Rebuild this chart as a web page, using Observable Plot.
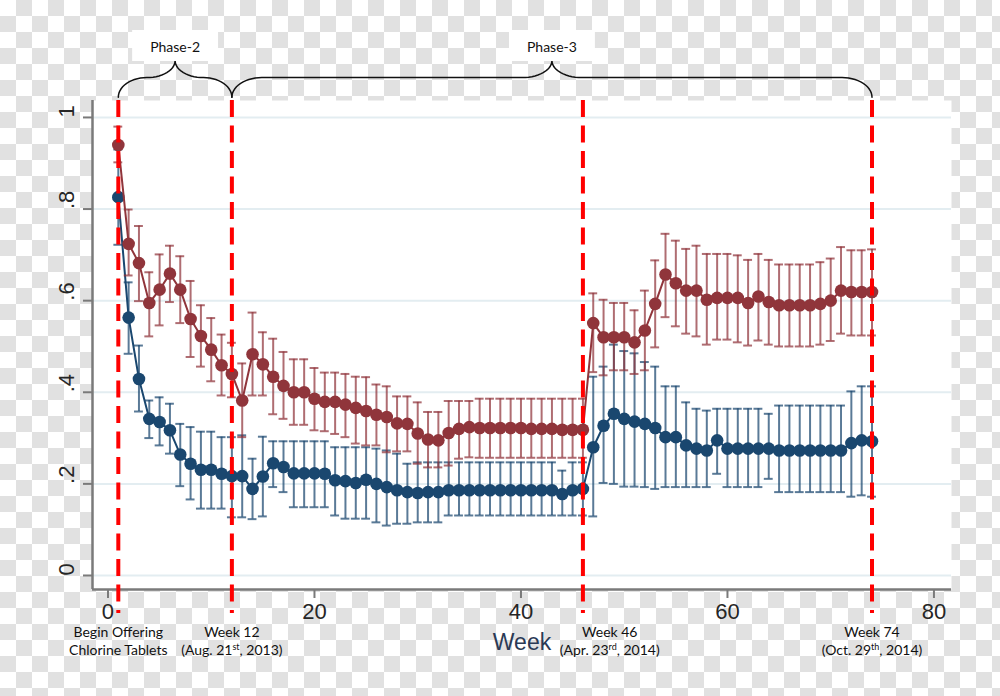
<!DOCTYPE html>
<html><head><meta charset="utf-8">
<script src="https://cdn.jsdelivr.net/npm/d3@7"></script>
<script src="https://cdn.jsdelivr.net/npm/@observablehq/plot@0.6"></script>
<style>
html,body{margin:0;padding:0;}
body{width:1000px;height:696px;overflow:hidden;background-color:#fff;
background-image:linear-gradient(45deg,#e1e1e1 25%,transparent 25%,transparent 75%,#e1e1e1 75%),linear-gradient(45deg,#e1e1e1 25%,transparent 25%,transparent 75%,#e1e1e1 75%);
background-size:32px 32px;background-position:0 0,16px 16px;}
#chart svg{display:block}
</style></head>
<body><div id="chart"></div>
<script>
// ---- data ----
const weeks = [1,2,3,4,5,6,7,8,9,10,11,12,13,14,15,16,17,18,19,20,21,22,23,24,25,26,27,28,29,30,31,32,33,34,35,36,37,38,39,40,41,42,43,44,45,46,47,48,49,50,51,52,53,54,55,56,57,58,59,60,61,62,63,64,65,66,67,68,69,70,71,72,73,74];

const redMean = [0.940,0.724,0.682,0.595,0.624,0.659,0.624,0.560,0.523,0.493,0.459,0.440,0.382,0.483,0.461,0.434,0.414,0.400,0.400,0.386,0.379,0.379,0.373,0.366,0.359,0.351,0.346,0.332,0.331,0.310,0.297,0.295,0.311,0.320,0.324,0.322,0.322,0.322,0.322,0.322,0.320,0.320,0.320,0.318,0.318,0.318,0.551,0.520,0.520,0.520,0.509,0.535,0.593,0.657,0.638,0.622,0.622,0.602,0.606,0.606,0.606,0.595,0.609,0.597,0.590,0.590,0.590,0.590,0.593,0.600,0.622,0.619,0.619,0.619];
const redHi = [0.980,0.799,0.763,0.662,0.701,0.720,0.697,0.643,0.590,0.562,0.526,0.508,0.463,0.574,0.531,0.517,0.488,0.472,0.472,0.453,0.443,0.443,0.440,0.434,0.433,0.417,0.413,0.391,0.391,0.378,0.357,0.357,0.381,0.381,0.381,0.386,0.386,0.386,0.386,0.386,0.386,0.386,0.386,0.386,0.386,0.386,0.616,0.602,0.595,0.595,0.579,0.622,0.688,0.746,0.731,0.713,0.720,0.702,0.702,0.702,0.699,0.689,0.702,0.689,0.679,0.679,0.679,0.679,0.684,0.692,0.717,0.710,0.710,0.712];
const redLo = [0.902,0.655,0.599,0.522,0.546,0.597,0.551,0.477,0.456,0.424,0.393,0.389,0.302,0.393,0.393,0.352,0.342,0.329,0.329,0.317,0.315,0.309,0.302,0.288,0.284,0.284,0.269,0.271,0.271,0.244,0.236,0.236,0.240,0.255,0.258,0.257,0.257,0.257,0.257,0.257,0.257,0.257,0.257,0.257,0.257,0.257,0.444,0.437,0.448,0.448,0.440,0.448,0.498,0.564,0.544,0.528,0.522,0.504,0.515,0.515,0.509,0.502,0.513,0.504,0.500,0.500,0.500,0.500,0.504,0.512,0.528,0.524,0.524,0.524];

const blueMean = [0.826,0.563,0.429,0.342,0.335,0.317,0.264,0.244,0.231,0.231,0.222,0.217,0.217,0.189,0.216,0.245,0.237,0.223,0.223,0.223,0.222,0.208,0.206,0.202,0.209,0.200,0.193,0.186,0.182,0.180,0.182,0.182,0.186,0.186,0.186,0.186,0.186,0.186,0.186,0.186,0.186,0.186,0.186,0.178,0.186,0.189,0.280,0.327,0.353,0.342,0.336,0.331,0.322,0.302,0.302,0.284,0.277,0.273,0.295,0.277,0.277,0.277,0.277,0.277,0.273,0.273,0.273,0.273,0.273,0.273,0.273,0.289,0.295,0.293];
const blueHi = [0.930,0.640,0.502,0.382,0.389,0.375,0.331,0.324,0.314,0.314,0.302,0.302,0.306,0.255,0.303,0.293,0.293,0.293,0.293,0.293,0.293,0.280,0.280,0.280,0.280,0.277,0.273,0.266,0.244,0.247,0.247,0.247,0.247,0.247,0.247,0.247,0.247,0.247,0.247,0.247,0.247,0.247,0.247,0.229,0.247,0.247,0.434,0.456,0.504,0.490,0.485,0.466,0.456,0.413,0.413,0.378,0.364,0.360,0.364,0.364,0.364,0.364,0.364,0.353,0.371,0.371,0.371,0.371,0.371,0.371,0.371,0.402,0.413,0.413];
const blueLo = [0.722,0.484,0.358,0.300,0.284,0.266,0.195,0.166,0.146,0.146,0.146,0.127,0.127,0.123,0.129,0.193,0.182,0.149,0.149,0.149,0.149,0.131,0.124,0.124,0.124,0.116,0.109,0.113,0.113,0.116,0.116,0.116,0.131,0.131,0.131,0.131,0.131,0.131,0.131,0.131,0.131,0.131,0.131,0.131,0.131,0.131,0.129,0.202,0.200,0.194,0.194,0.193,0.189,0.193,0.193,0.193,0.193,0.193,0.222,0.193,0.193,0.193,0.193,0.211,0.182,0.182,0.182,0.182,0.182,0.182,0.182,0.172,0.175,0.172];

const xTicks = [0, 20, 40, 60, 80];
const yTicks = [0, 0.2, 0.4, 0.6, 0.8, 1];
const yTickLabels = ["0", ".2", ".4", ".6", ".8", "1"];
const xTitle = "Week";

const eventWeeks = [1, 12, 46, 74];
const eventLine1 = ["Begin Offering", "Week 12", "Week 46", "Week 74"];
const eventLine2 = ["Chlorine Tablets", "(Aug. 21^st, 2013)", "(Apr. 23^rd, 2014)", "(Oct. 29^th, 2014)"];

const phaseLabels = ["Phase-2", "Phase-3"];
const phaseStart = [1, 12];
const phaseEnd = [12, 74];

// ---- tables ----
const red = weeks.map((w,i) => ({week:w, mean:redMean[i], hi:redHi[i], lo:redLo[i]}));
const blue = weeks.map((w,i) => ({week:w, mean:blueMean[i], hi:blueHi[i], lo:blueLo[i]}));
const events = eventWeeks.map((w,i) => ({week:w, l1:eventLine1[i], l2:eventLine2[i]}));
const phases = phaseLabels.map((p,i) => ({label:p, start:phaseStart[i], end:phaseEnd[i]}));

const xDomain = [-1.5, 81.7];
const yDomain = [-0.0306, 1.037];

// brace geometry (value units above the frame)
const braceBase = 1.044, braceMid = 1.087, braceTip = 1.124;
function bracePts(p) {
  const x0 = p.start, x1 = p.end, mid = (x0 + x1) / 2;
  const r = Math.min(2.9, (x1 - x0) / 4);
  const n = 14, pts = [];
  for (let i = 0; i <= n; i++) { const a = i/n*Math.PI/2; pts.push({x: x0 + r*(1-Math.cos(a)), y: braceBase + (braceMid-braceBase)*Math.sin(a), z:p.label}); }
  for (let i = 0; i <= n; i++) { const a = i/n*Math.PI/2; pts.push({x: mid - r + r*Math.sin(a), y: braceMid + (braceTip-braceMid)*(1-Math.cos(a)), z:p.label}); }
  for (let i = n; i >= 0; i--) { const a = i/n*Math.PI/2; pts.push({x: mid + r - r*Math.sin(a), y: braceMid + (braceTip-braceMid)*(1-Math.cos(a)), z:p.label}); }
  for (let i = n; i >= 0; i--) { const a = i/n*Math.PI/2; pts.push({x: x1 - r*(1-Math.cos(a)), y: braceBase + (braceMid-braceBase)*Math.sin(a), z:p.label}); }
  return pts;
}
const braces = phases.flatMap(bracePts);

const redC = "#90353b", blueC = "#1a476f";
const capHalf = 0.43;
function seriesMarks(data, color) {
  return [
    Plot.ruleX(data, {x:"week", y1:"lo", y2:"hi", stroke:color, strokeOpacity:0.72, strokeWidth:2}),
    Plot.ruleY(data, {y:"hi", x1:d=>d.week-capHalf, x2:d=>d.week+capHalf, stroke:color, strokeOpacity:0.72, strokeWidth:2}),
    Plot.ruleY(data, {y:"lo", x1:d=>d.week-capHalf, x2:d=>d.week+capHalf, stroke:color, strokeOpacity:0.72, strokeWidth:2}),
    Plot.line(data, {x:"week", y:"mean", stroke:color, strokeWidth:2}),
    Plot.dot(data, {x:"week", y:"mean", r:6.3, fill:color, stroke:null})
  ];
}

const tickFont = "Liberation Sans, Arial, sans-serif";
const noteFont = "Lato, 'Open Sans', sans-serif";

const svg = Plot.plot({
  width: 1000, height: 696,
  marginLeft: 92, marginRight: 49, marginTop: 100, marginBottom: 107,
  x: {domain: xDomain},
  y: {domain: yDomain},
  style: {background: "transparent", overflow: "visible", color: "#262626"},
  marks: [
    Plot.frame({fill: "white", stroke: null}),
    Plot.ruleY(yTicks, {stroke: "#e3edf1", strokeWidth: 2}),
    ...seriesMarks(blue, blueC),
    ...seriesMarks(red, redC),
    Plot.ruleX([xDomain[0]], {stroke: "#7a7a7a", strokeWidth: 2.5}),
    Plot.ruleY([yDomain[0]], {stroke: "#7a7a7a", strokeWidth: 2.5}),
    Plot.axisY({ticks: yTicks, tickSize: 9, tickFormat: () => "", stroke: "#7a7a7a", strokeWidth: 2, label: null}),
    Plot.text(yTicks, {y: d => d, text: (d,i) => yTickLabels[i], frameAnchor: "left", dx: -26, rotate: -90, fontSize: 22, fontFamily: tickFont, fill: "#262626"}),
    Plot.axisX({ticks: xTicks, tickSize: 9, tickPadding: 5, fontSize: 22, fontFamily: tickFont, stroke: "#7a7a7a", strokeWidth: 2, label: null}),
    Plot.text([xTitle], {frameAnchor: "bottom", dy: 53, fontSize: 23, fontFamily: tickFont, fill: "#2b3a55", lineAnchor: "middle"}),
    Plot.text(events, {x: d => d.week + (d.week === 46 ? 2.6 : 0), text: "l1", frameAnchor: "bottom", dy: 43, fontSize: 14, fontFamily: noteFont, fill: "#111", lineAnchor: "middle"}),
    Plot.text(events, {x: d => d.week + (d.week === 46 ? 2.6 : 0), text: "l2", frameAnchor: "bottom", dy: 61, fontSize: 14, fontFamily: noteFont, fill: "#111", lineAnchor: "middle"}),
    Plot.line(braces, {x: "x", y: "y", z: "z", stroke: "#111", strokeWidth: 1.5, clip: false}),
    Plot.text(phases, {x: d => (d.start + d.end) / 2, text: "label", frameAnchor: "top", dy: -53, fontSize: 14, fontFamily: noteFont, fill: "#111", lineAnchor: "middle"}),
    Plot.ruleX(eventWeeks, {y1: yDomain[1], y2: -0.083, stroke: "#ff0000", strokeWidth: 4, strokeDasharray: "17,8.5"})
  ]
});
document.getElementById("chart").appendChild(svg);

// superscripts
const NS = "http://www.w3.org/2000/svg";
svg.querySelectorAll("text").forEach(t => {
  const s = t.textContent;
  if (!s.includes("^")) return;
  t.textContent = "";
  const parts = s.split(/\^([a-z]+)/);
  parts.forEach((p, i) => {
    if (!p) return;
    const ts = document.createElementNS(NS, "tspan");
    ts.textContent = p;
    if (i % 2 === 1) { ts.setAttribute("dy", "-5"); ts.setAttribute("font-size", "9"); }
    else if (i > 0) { ts.setAttribute("dy", "5"); }
    t.appendChild(ts);
  });
});
// white boxes behind phase labels
svg.querySelectorAll("text").forEach(t => {
  if (!phaseLabels.includes(t.textContent)) return;
  const b = t.getBBox();
  const r = document.createElementNS(NS, "rect");
  r.setAttribute("x", b.x - 18); r.setAttribute("y", b.y - 8);
  r.setAttribute("width", b.width + 36); r.setAttribute("height", b.height + 14);
  r.setAttribute("fill", "white");
  const tr = t.getAttribute("transform");
  if (tr) r.setAttribute("transform", tr);
  t.parentNode.insertBefore(r, t);
});
</script></body></html>
